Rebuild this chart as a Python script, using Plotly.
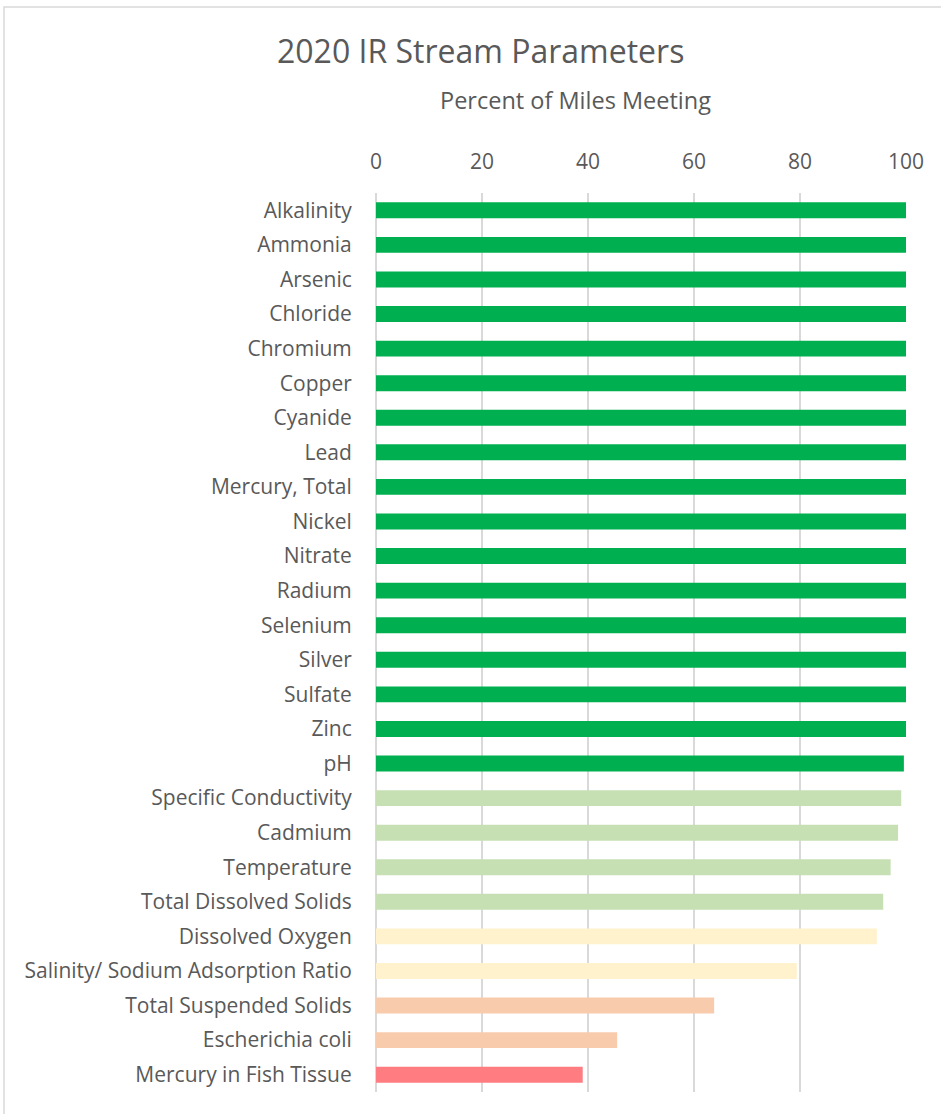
import plotly.graph_objects as go

categories = ["Alkalinity", "Ammonia", "Arsenic", "Chloride", "Chromium", "Copper",
              "Cyanide", "Lead", "Mercury, Total", "Nickel", "Nitrate", "Radium",
              "Selenium", "Silver", "Sulfate", "Zinc", "pH", "Specific Conductivity",
              "Cadmium", "Temperature", "Total Dissolved Solids", "Dissolved Oxygen",
              "Salinity/ Sodium Adsorption Ratio", "Total Suspended Solids",
              "Escherichia coli", "Mercury in Fish Tissue"]
values = [100, 100, 100, 100, 100, 100, 100, 100, 100, 100, 100, 100, 100, 100, 100, 100,
          99.6, 99.1, 98.5, 97.1, 95.7, 94.5, 79.4, 63.8, 45.5, 39.0]
bar_colors = ["#00B050"] * 17 + ["#C6E0B4"] * 4 + ["#FFF2CC"] * 2 + ["#F8CBAD"] * 2 + ["#FF7C80"]
tick_vals = [0, 20, 40, 60, 80, 100]

fig = go.Figure(go.Bar(
    x=values, y=categories, orientation="h",
    marker=dict(color=bar_colors, line=dict(width=0)),
    width=0.46,
))

txt = "#595959"
fig.update_layout(
    width=941, height=1114,
    margin=dict(l=376, r=35, t=193, b=22),
    paper_bgcolor="white", plot_bgcolor="white",
    font=dict(family="Open Sans, sans-serif", color=txt, size=18),
    showlegend=False,
)
fig.update_xaxes(
    range=[0, 100], side="top", tickvals=tick_vals,
    showgrid=True, gridcolor="#D9D9D9", gridwidth=1.5,
    zeroline=True, zerolinecolor="#D9D9D9", zerolinewidth=1.5,
    ticks="outside", ticklen=15, tickcolor="rgba(0,0,0,0)",
    tickfont=dict(size=21, color=txt), showline=False,
)
fig.update_yaxes(
    autorange="reversed", ticks="outside", ticklen=19, tickcolor="rgba(0,0,0,0)",
    tickfont=dict(size=21, color=txt), showgrid=False, showline=False,
)
fig.add_annotation(text="2020 IR Stream Parameters", xref="paper", yref="paper",
                   x=0.198, y=1.159, showarrow=False, font=dict(size=32, color=txt),
                   xanchor="center", yanchor="middle")
fig.add_annotation(text="Percent of Miles Meeting", xref="paper", yref="paper",
                   x=0.3755, y=1.1034, showarrow=False, font=dict(size=23.5, color=txt),
                   xanchor="center", yanchor="middle")
fig.add_shape(type="rect", xref="paper", yref="paper", x0=-0.7019, x1=1.2, y0=-0.1, y1=1.2069,
              line=dict(color="#D9D9D9", width=1.5), fillcolor="rgba(0,0,0,0)", layer="below")
fig.write_html("out.html")
